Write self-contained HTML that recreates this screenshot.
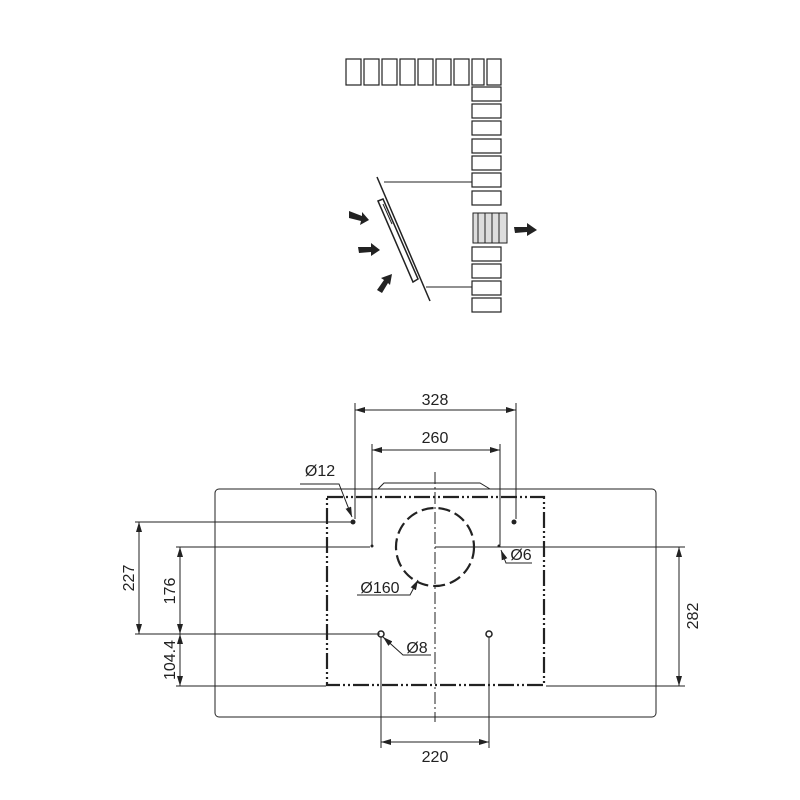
<!DOCTYPE html>
<html><head><meta charset="utf-8"><style>html,body{margin:0;padding:0;background:#fff}svg{display:block}text{font-family:"Liberation Sans",sans-serif;fill:#222}</style></head>
<body>
<svg width="800" height="800" viewBox="0 0 800 800" xmlns="http://www.w3.org/2000/svg">
<defs>
<marker id="a" viewBox="0 0 10 6" refX="10" refY="3" markerWidth="10" markerHeight="6" orient="auto-start-reverse" markerUnits="userSpaceOnUse"><path d="M0,0 L10,3 L0,6 z" fill="#222"/></marker>
</defs>
<g stroke="#222" fill="none" stroke-width="1">
<g stroke-width="1.2">
<rect x="346" y="59" width="15" height="26"/><rect x="364" y="59" width="15" height="26"/><rect x="382" y="59" width="15" height="26"/><rect x="400" y="59" width="15" height="26"/><rect x="418" y="59" width="15" height="26"/><rect x="436" y="59" width="15" height="26"/><rect x="454" y="59" width="15" height="26"/><rect x="472" y="59" width="12" height="26"/><rect x="487" y="59" width="14" height="26"/>
<rect x="472" y="87" width="29" height="14"/><rect x="472" y="104" width="29" height="14"/><rect x="472" y="121" width="29" height="14"/><rect x="472" y="139" width="29" height="14"/><rect x="472" y="156" width="29" height="14"/><rect x="472" y="173" width="29" height="14"/><rect x="472" y="191" width="29" height="14"/>
<rect x="472" y="247" width="29" height="14"/><rect x="472" y="264" width="29" height="14"/><rect x="472" y="281" width="29" height="14"/><rect x="472" y="298" width="29" height="14"/>
</g>
<rect x="473" y="213" width="34" height="30" fill="#ddd"/>
<line x1="478" y1="213" x2="478" y2="243"/><line x1="485" y1="213" x2="485" y2="243"/><line x1="492" y1="213" x2="492" y2="243"/><line x1="499" y1="213" x2="499" y2="243"/>
<line x1="377" y1="177" x2="430" y2="301" stroke-width="1.5"/>
<line x1="384" y1="182" x2="472" y2="182"/>
<line x1="426" y1="287" x2="472" y2="287"/>
<polygon points="378,201 383,199 418,279 413,282" stroke-width="1.5"/>
<line x1="383" y1="204" x2="392" y2="224"/>
</g>
<g fill="#222">
<path d="M349,211 L362,216 L362,212 L369,220 L360,225 L361,221 L349,218 z"/>
<path d="M358,247 L371,247 L371,243 L380,250 L371,256 L371,252 L359,253 z"/>
<path d="M377,290 L384,280 L381,278 L392,274 L390,285 L388,283 L382,293 z"/>
<path d="M514,227 L527,227 L527,223 L537,230 L527,236 L527,232 L515,233 z"/>
</g>
<g stroke="#222" fill="none" stroke-width="1">
<rect x="215" y="489" width="441" height="228" rx="4"/>
<polyline points="378,489 384,483 480,483 490,489"/>
<rect x="327" y="497" width="217" height="188" stroke-width="2.2" stroke-dasharray="16,3,2,3,2,3"/>
<line x1="435" y1="472" x2="435" y2="722" stroke-dasharray="12,3,2,3"/>
<circle cx="435" cy="547" r="39" stroke-width="2.2" stroke-dasharray="12,5"/>
<line x1="355" y1="403" x2="355" y2="519"/><line x1="516" y1="403" x2="516" y2="519"/>
<line x1="355" y1="410" x2="516" y2="410" marker-start="url(#a)" marker-end="url(#a)"/>
<line x1="372" y1="444" x2="372" y2="545"/><line x1="500" y1="444" x2="500" y2="545"/>
<line x1="372" y1="450" x2="500" y2="450" marker-start="url(#a)" marker-end="url(#a)"/>
<line x1="135" y1="522" x2="352" y2="522"/>
<line x1="176" y1="547" x2="370" y2="547"/>
<line x1="435" y1="547" x2="685" y2="547"/>
<line x1="135" y1="634" x2="380" y2="634"/>
<line x1="176" y1="686" x2="326" y2="686"/>
<line x1="546" y1="686" x2="685" y2="686"/>
<line x1="139" y1="522" x2="139" y2="634" marker-start="url(#a)" marker-end="url(#a)"/>
<line x1="180" y1="547" x2="180" y2="634" marker-start="url(#a)" marker-end="url(#a)"/>
<line x1="180" y1="634" x2="180" y2="686" marker-start="url(#a)" marker-end="url(#a)"/>
<line x1="679" y1="547" x2="679" y2="686" marker-start="url(#a)" marker-end="url(#a)"/>
<line x1="381" y1="637" x2="381" y2="748"/><line x1="489" y1="637" x2="489" y2="748"/>
<line x1="381" y1="742" x2="489" y2="742" marker-start="url(#a)" marker-end="url(#a)"/>
<polyline points="300,484 339,484 352,517" marker-end="url(#a)"/>
<polyline points="532,563 506,563 501,550" marker-end="url(#a)"/>
<polyline points="357,595 410,595 418,580" marker-end="url(#a)"/>
<polyline points="431,655 403,655 383,637" marker-end="url(#a)"/>
<circle cx="381" cy="634" r="3" stroke-width="1.5"/>
<circle cx="489" cy="634" r="3" stroke-width="1.5"/>
</g>
<g fill="#222">
<circle cx="353" cy="522" r="2.5"/><circle cx="514" cy="522" r="2.5"/>
<circle cx="372" cy="546" r="1.5"/><circle cx="499" cy="546" r="1.5"/>
</g>
<g font-size="16" text-anchor="middle">
<text x="435" y="405">328</text>
<text x="435" y="443">260</text>
<text x="320" y="476">Ø12</text>
<text x="521" y="560">Ø6</text>
<text x="380" y="593">Ø160</text>
<text x="417" y="653">Ø8</text>
<text x="435" y="762">220</text>
<text transform="translate(134,578) rotate(-90)">227</text>
<text transform="translate(175,591) rotate(-90)">176</text>
<text transform="translate(175,660) rotate(-90)">104.4</text>
<text transform="translate(698,616) rotate(-90)">282</text>
</g>
</svg>
</body></html>
